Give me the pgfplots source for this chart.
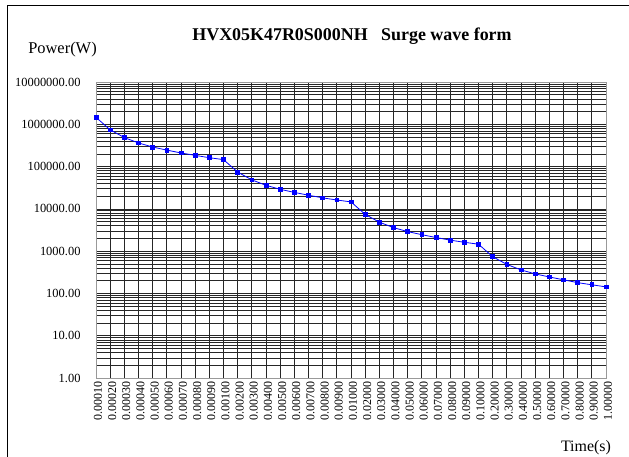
\documentclass[border=0pt]{standalone}
\usepackage{pgfplots}
\pgfplotsset{compat=1.18}
\usepackage{fontspec}
\setmainfont{Liberation Serif}
\begin{document}
\begin{tikzpicture}
\useasboundingbox (0,0) rectangle (629bp,457bp);
\draw[black, line width=0.8bp] (7bp,0) -- (7bp,452bp) -- (629bp,452bp);
\begin{axis}[
  at={(96bp,79bp)}, anchor=south west,
  scale only axis, width=510bp, height=296bp,
  ymode=log, ymin=1, ymax=1e7,
  xmin=0, xmax=36,
  xtick={0,...,36},
  xticklabels={0.00010,0.00020,0.00030,0.00040,0.00050,0.00060,0.00070,0.00080,0.00090,0.00100,0.00200,0.00300,0.00400,0.00500,0.00600,0.00700,0.00800,0.00900,0.01000,0.02000,0.03000,0.04000,0.05000,0.06000,0.07000,0.08000,0.09000,0.10000,0.20000,0.30000,0.40000,0.50000,0.60000,0.70000,0.80000,0.90000,1.00000},
  ytick={1,10,100,1000,10000,100000,1000000,10000000},
  yticklabels={1.00,10.00,100.00,1000.00,10000.00,100000.00,1000000.00,10000000.00},
  /pgf/number format/assume math mode=true,
  major tick length=0pt, minor tick length=0pt,
  xmajorgrids, ymajorgrids, yminorgrids,
  major grid style={black!85, line width=0.7bp},
  minor grid style={black!85, line width=0.6bp},
  axis line style={black!40, line width=0.8bp},
  x tick label style={rotate=90, anchor=east, font=\fontsize{12}{12}\selectfont, yshift=-2bp},
  y tick label style={anchor=east, font=\fontsize{12.5}{13}\selectfont, xshift=-12bp},
  clip=false,
]
\addplot[blue, line width=0.8bp, mark=square*, mark size=1.9bp, mark options={fill=blue, draw=blue}] table[x=i, y=p] {
i p
0 1460000
1 740000
2 485000
3 362000
4 290000
5 245000
6 210000
7 184000
8 162000
9 146000
10 74000
11 48500
12 36000
13 29000
14 24500
15 21000
16 18200
17 16200
18 14600
19 7400
20 4850
21 3600
22 2900
23 2450
24 2100
25 1820
26 1620
27 1460
28 740
29 485
30 360
31 290
32 245
33 210
34 180
35 160
36 143
};
\end{axis}
\node[font=\bfseries\fontsize{18}{20}\selectfont] at (352bp,421bp) {HVX05K47R0S000NH\ \ \ Surge wave form};
\node[font=\fontsize{16.5}{18}\selectfont] at (62.5bp,407bp) {Power(W)};
\node[font=\fontsize{16}{18}\selectfont] at (586bp,9bp) {Time(s)};
\end{tikzpicture}
\end{document}
